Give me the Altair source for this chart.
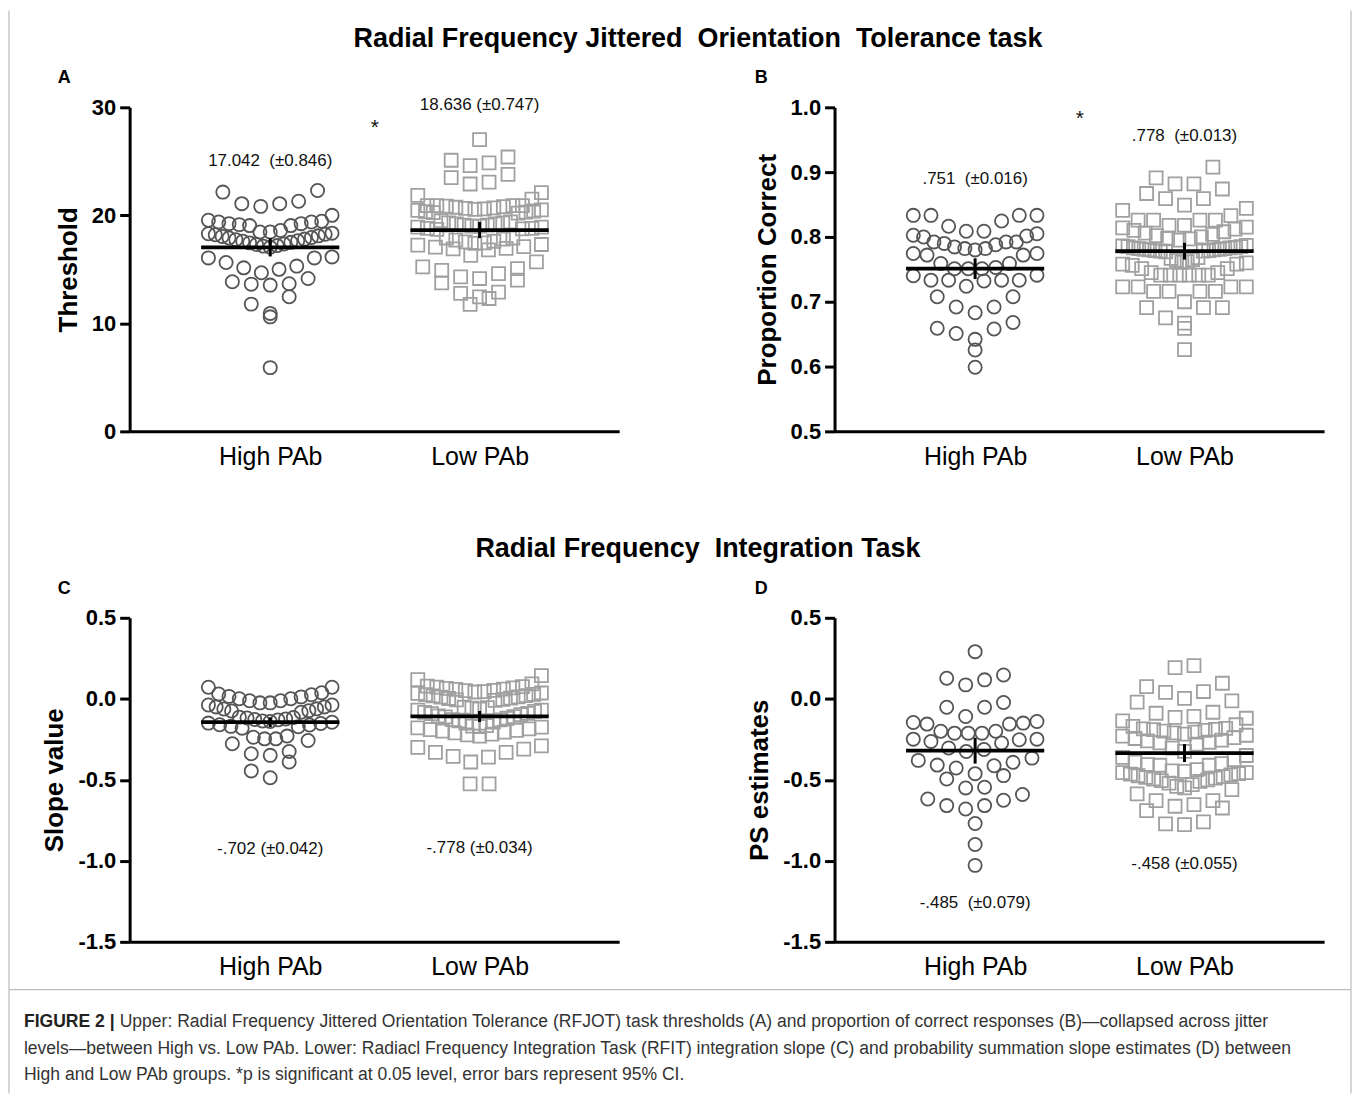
import altair as alt
import pandas as pd

FONT = "Liberation Sans, Arial, Helvetica, sans-serif"
NB = "\u00a0"

# ---------------- data ----------------
GROUPS = ["High PAb", "Low PAb"]

A_HIGH = [22.15, 22.3, 21.08, 20.83, 21.08, 21.3,
          19.54, 19.38, 19.23, 19.14, 19.05, 19.05, 19.23, 19.38, 19.45, 20.0,
          18.46, 18.6, 18.46,
          18.3, 18.2, 18.05, 17.9, 17.75, 17.6, 17.45, 17.3, 17.15, 17.05,
          17.2, 17.35, 17.5, 17.65, 17.8, 17.95, 18.1, 18.25, 18.35,
          16.06, 16.06, 15.3, 15.0, 14.68, 15.14, 15.63, 16.15,
          13.85, 13.63, 13.54, 13.66, 14.15,
          12.46, 11.78, 10.92, 10.6, 5.9]
A_LOW = [27.0, 25.1, 25.4, 24.6, 24.86, 22.9, 23.5, 23.8, 23.07, 21.85, 21.5, 22.1, 20.9, 20.9,
         20.9, 20.85, 20.75, 20.65, 20.55, 20.45, 20.35, 20.25, 20.2, 20.3, 20.4, 20.5, 20.6, 20.7, 20.8, 20.9,
         19.4, 19.3, 19.2, 19.1, 19.0, 18.9, 18.8, 18.75, 18.7, 18.8, 18.9, 19.0, 19.1, 19.2, 19.3, 19.5,
         17.9, 17.8, 17.6, 17.45, 17.3, 17.1, 16.95, 16.8, 16.9, 17.05, 17.25, 17.4, 17.55, 17.7, 17.9,
         16.3, 15.7,
         15.23, 14.9, 14.3, 14.0, 13.75, 14.15, 14.6, 15.07,
         12.9, 12.46, 11.75, 12.3, 12.77]
B_HIGH = [0.8333, 0.8333, 0.8165, 0.8246, 0.8333, 0.8333,
          0.8087, 0.8015, 0.800, 0.7923, 0.790, 0.7846, 0.782, 0.780, 0.782, 0.788, 0.7923, 0.7923,
          0.8026, 0.805, 0.8087,
          0.7744, 0.7744, 0.772, 0.772,
          0.759, 0.751, 0.751, 0.751, 0.7528, 0.759,
          0.74, 0.7333, 0.7333, 0.724, 0.741, 0.732, 0.7333, 0.7333,
          0.7077, 0.692, 0.683, 0.692, 0.7077,
          0.659, 0.651, 0.642, 0.658, 0.668,
          0.6256, 0.599]
B_LOW = [0.9077, 0.882, 0.874, 0.891, 0.867, 0.882, 0.859, 0.859, 0.849, 0.841, 0.844, 0.833,
         0.826, 0.826, 0.826, 0.826, 0.818, 0.818,
         0.815, 0.812, 0.808, 0.804, 0.80, 0.797, 0.795, 0.798, 0.802, 0.806, 0.81, 0.814,
         0.786, 0.785, 0.784, 0.783, 0.782, 0.781, 0.780, 0.779, 0.778, 0.777, 0.778, 0.779,
         0.780, 0.781, 0.782, 0.783, 0.785, 0.787,
         0.768, 0.765, 0.762, 0.760, 0.758, 0.756, 0.758, 0.761, 0.764, 0.767,
         0.751, 0.741, 0.741, 0.741, 0.741, 0.741, 0.741, 0.751, 0.745, 0.745,
         0.716, 0.716, 0.723, 0.723, 0.723, 0.723, 0.716, 0.716,
         0.691, 0.691, 0.691, 0.70,
         0.667, 0.659, 0.675, 0.626]
C_HIGH = [0.071, 0.037, 0.071,
          0.03, 0.015, 0.0, -0.012, -0.025, -0.038, -0.05, -0.062, -0.073, -0.083,
          -0.075, -0.063, -0.05, -0.038, -0.025, -0.012, 0.0, 0.012, 0.025,
          -0.113, -0.118, -0.124, -0.13, -0.137, -0.145, -0.152, -0.16, -0.17, -0.181,
          -0.172, -0.162, -0.15, -0.14, -0.128, -0.115,
          -0.237, -0.247, -0.277, -0.257, -0.247, -0.230,
          -0.339, -0.349, -0.325, -0.39,
          -0.487, -0.445]
C_LOW = [0.118, 0.092, 0.143,
         0.078, 0.072, 0.065, 0.058, 0.05, 0.042, 0.034, 0.026, 0.018, 0.01, 0.002, -0.006,
         -0.01, -0.004, 0.004, 0.012, 0.02, 0.028, 0.036, 0.044, 0.052, 0.06, 0.068, 0.075,
         -0.052, -0.058, -0.064, -0.07, -0.077, -0.084, -0.091, -0.098, -0.105, -0.112,
         -0.12, -0.128, -0.136, -0.144, -0.15, -0.13, -0.11, -0.09, -0.07, -0.055,
         -0.165, -0.172, -0.18, -0.19, -0.2, -0.21, -0.222, -0.23, -0.218, -0.205, -0.195,
         -0.185, -0.175, -0.168,
         -0.29, -0.31, -0.33, -0.355, -0.39, -0.36, -0.33, -0.30,
         -0.525, -0.525]
D_HIGH = [0.291, 0.127, 0.086, 0.117, 0.147, -0.052, -0.052, -0.023,
          -0.109, -0.146, -0.156, -0.20, -0.212, -0.212, -0.212, -0.20, -0.156, -0.150, -0.14,
          -0.249, -0.263, -0.304, -0.325, -0.366, -0.313, -0.273, -0.253, -0.249,
          -0.392, -0.413, -0.462, -0.495, -0.474, -0.427, -0.409, -0.38,
          -0.55, -0.618, -0.626, -0.591, -0.546, -0.659, -0.68, -0.659,
          -0.77, -0.899, -1.028]
D_LOW = [0.205, 0.192, 0.096, 0.045, 0.003, 0.04, 0.075,
         -0.013, -0.021, -0.083, -0.109, -0.12, -0.136, -0.115, -0.089, -0.17, -0.16,
         -0.185, -0.19, -0.2, -0.21, -0.225, -0.24, -0.255, -0.268, -0.28, -0.272, -0.26,
         -0.245, -0.23, -0.218, -0.205, -0.195, -0.188, -0.182,
         -0.325, -0.362, -0.376, -0.406, -0.41, -0.40, -0.41, -0.39, -0.35, -0.304,
         -0.448, -0.455, -0.462, -0.47, -0.48, -0.49, -0.5, -0.51, -0.53, -0.52, -0.505,
         -0.495, -0.485, -0.475, -0.465, -0.455, -0.445, -0.437,
         -0.55, -0.587, -0.628, -0.653, -0.628, -0.56, -0.54,
         -0.663, -0.69, -0.674, -0.76, -0.776, -0.772]

MEANS = {"A": [17.042, 18.636], "B": [0.751, 0.778], "C": [-0.144, -0.109], "D": [-0.32, -0.335]}
CIS = {"A": [0.846, 0.747], "B": [0.016, 0.013], "C": [0.03, 0.034], "D": [0.08, 0.055]}
ANN_TEXT = {
    "A": ["17.042" + NB + " (±0.846)", "18.636 (±0.747)"],
    "B": [".751" + NB + " (±0.016)", ".778" + NB + " (±0.013)"],
    "C": ["-.702 (±0.042)", "-.778 (±0.034)"],
    "D": ["-.485" + NB + " (±0.079)", "-.458 (±0.055)"],
}
ANN_Y = {"A": [25.0, 30.2], "B": [0.89, 0.955], "C": [-0.928, -0.918], "D": [-1.263, -1.017]}
STAR_Y = {"A": 28.06, "B": 0.9815}

TITLE1 = "Radial Frequency Jittered" + NB + " Orientation" + NB + " Tolerance task"
TITLE2 = "Radial Frequency" + NB + " Integration Task"
CAPTION_BOLD = "FIGURE 2 |"
CAPTION = [
    "Upper: Radial Frequency Jittered Orientation Tolerance (RFJOT) task thresholds (A) and proportion of correct responses (B)\u2014collapsed across jitter",
    "levels\u2014between High vs. Low PAb. Lower: Radiacl Frequency Integration Task (RFIT) integration slope (C) and probability summation slope estimates (D) between",
    "High and Low PAb groups. *p is significant at 0.05 level, error bars represent 95% CI.",
]

# ---------------- layout constants ----------------
W, H = 491, 325
GAP = 216
PX_PER_CAT = 210.0
XMIN, XMAX = 1 - 141 / PX_PER_CAT, 1 + 350 / PX_PER_CAT
LEFT_EDGE, RIGHT_EDGE = -121, 1225
CAP_FS = 17.6


def swarm(vals, ppu_y, bin_px=17.0, gap_px=19.0, span_px=124.0):
    ordered = sorted(vals, reverse=True)
    rows, cur, top = [], [], None
    for v in ordered:
        if top is None or (top - v) * ppu_y > bin_px:
            if cur:
                rows.append(cur)
            cur, top = [v], v
        else:
            cur.append(v)
    if cur:
        rows.append(cur)
    out = []
    for row in rows:
        n = len(row)
        step = gap_px if n < 2 else min(gap_px, span_px / (n - 1))
        slots = [0.0] if n % 2 else []
        k = 1.0 if n % 2 else 0.5
        while len(slots) < n:
            slots.append(-k)
            if len(slots) < n:
                slots.append(k)
            k += 1
        for v, s in zip(sorted(row), slots):
            out.append((v, s * step))
    return out


def panel(key, letter_dx, hi, lo, ydom, yticks, ytitle):
    ppu_y = H / (ydom[1] - ydom[0])
    recs = []
    for g, vals in ((1, hi), (2, lo)):
        for v, off in swarm(vals, ppu_y):
            recs.append({"g": g, "v": v, "x": g + off / PX_PER_CAT})
    df = pd.DataFrame(recs)

    xs = alt.Scale(domain=[XMIN, XMAX], nice=False, zero=False)
    ys = alt.Scale(domain=ydom, nice=False, zero=False)
    xaxis = alt.Axis(values=[1, 2], labelExpr="datum.value == 1 ? '%s' : '%s'" % tuple(GROUPS),
                     ticks=False, grid=False, title=None, domainColor="black", domainWidth=3,
                     labelFontSize=25, labelPadding=13, labelColor="black", labelFont=FONT)
    yaxis = alt.Axis(values=yticks, labelExpr="replace(format(datum.value, '%s'), '\u2212', '-')" % (
        ".0f" if key == "A" else ".1f"),
        grid=False, title=ytitle, domainColor="black", domainWidth=3, tickColor="black",
        tickWidth=3, tickSize=10, labelFontSize=22, labelFontWeight="bold", labelColor="black",
        labelFont=FONT, labelPadding=4, titleFont=FONT, titleFontSize=26, titleFontWeight="bold",
        titleColor="black", titlePadding=10)
    X = lambda f: alt.X(f, scale=xs, axis=xaxis)
    Y = lambda f: alt.Y(f, scale=ys, axis=yaxis)

    circles = alt.Chart(df).transform_filter("datum.g == 1").mark_point(
        shape="circle", filled=False, size=175, strokeWidth=1.8, color="#555555", opacity=1
    ).encode(x=X("x:Q"), y=Y("v:Q"))
    squares = alt.Chart(df).transform_filter("datum.g == 2").mark_point(
        shape="square", filled=False, size=170, strokeWidth=1.8, color="#a0a0a0", opacity=1
    ).encode(x=X("x:Q"), y=Y("v:Q"))

    m, c = MEANS[key], CIS[key]
    stats = pd.DataFrame({"g": [1, 2], "m": m,
                          "lo": [m[0] - c[0], m[1] - c[1]], "hi": [m[0] + c[0], m[1] + c[1]],
                          "l": [1 - 0.33, 2 - 0.33], "r": [1 + 0.33, 2 + 0.33]})
    mean_rule = alt.Chart(stats).mark_rule(color="black", strokeWidth=3.8).encode(
        x=X("l:Q"), x2="r:Q", y=Y("m:Q"))
    err_rule = alt.Chart(stats).mark_rule(color="black", strokeWidth=3).encode(
        x=X("g:Q"), y=Y("lo:Q"), y2="hi:Q")

    ann = pd.DataFrame({"g": [1, 2], "y": ANN_Y[key], "t": ANN_TEXT[key]})
    ann_text = alt.Chart(ann).mark_text(font=FONT, fontSize=17, baseline="middle", color="#111111").encode(
        x=X("g:Q"), y=Y("y:Q"), text="t:N")
    layers = [circles, squares, mean_rule, err_rule, ann_text]
    if key in STAR_Y:
        star = pd.DataFrame({"g": [1.5], "y": [STAR_Y[key]], "t": ["*"]})
        layers.append(alt.Chart(star).mark_text(font=FONT, fontSize=21, baseline="middle",
                                                 color="#111111").encode(
            x=X("g:Q"), y=Y("y:Q"), text="t:N"))
    lt = pd.DataFrame({"t": [key]})
    layers.append(alt.Chart(lt).mark_text(font=FONT, fontSize=18, fontWeight="bold", align="left",
                                          baseline="alphabetic", color="black").encode(
        x=alt.value(letter_dx), y=alt.value(-24), text="t:N"))
    return alt.layer(*layers).properties(width=W, height=H)


pA = panel("A", -72, A_HIGH, A_LOW, [0, 30], [0, 10, 20, 30], "Threshold")
pB = panel("B", -80, B_HIGH, B_LOW, [0.5, 1.0], [0.5, 0.6, 0.7, 0.8, 0.9, 1.0], "Proportion Correct")
pC = panel("C", -72, C_HIGH, C_LOW, [-1.5, 0.5], [-1.5, -1.0, -0.5, 0.0, 0.5], "Slope value")
pD = panel("D", -80, D_HIGH, D_LOW, [-1.5, 0.5], [-1.5, -1.0, -0.5, 0.0, 0.5], "PS estimates")


def blank(height):
    return alt.Chart(pd.DataFrame({"t": [" "]})).mark_text(fontSize=1).encode(
        x=alt.value(10), y=alt.value(height / 2), text="t:N").properties(width=W, height=height)


def title_chart(text, height, base_y, with_frame=False):
    t = pd.DataFrame({"t": [text]})
    center = (2 * W + GAP) / 2 - 29
    layers = [alt.Chart(t).mark_text(font=FONT, fontSize=27, fontWeight="bold", color="black",
                                     baseline="alphabetic").encode(
        x=alt.value(center), y=alt.value(base_y), text="t:N")]
    if with_frame:
        for xv in (LEFT_EDGE, RIGHT_EDGE):
            layers.append(alt.Chart(t).mark_rule(color="#c8c8c8", strokeWidth=1.5).encode(
                x=alt.value(xv), y=alt.value(0), y2=alt.value(1086)))
    return alt.layer(*layers).properties(width=W, height=height)


t1 = title_chart(TITLE1, 97, 36, with_frame=True)
t2 = title_chart(TITLE2, 187, 126)

# caption (box top 48px below the lower panels; sides come from the frame lines)
CAP_H = 144
BOLD_W = 91
box_top = alt.Chart(pd.DataFrame({"t": ["box"]})).mark_rule(
    color="#bdbdbd", strokeWidth=1.2).encode(
    x=alt.value(LEFT_EDGE), x2=alt.value(RIGHT_EDGE), y=alt.value(48))
bold = alt.Chart(pd.DataFrame({"t": [CAPTION_BOLD]})).mark_text(
    font=FONT, fontSize=CAP_FS, fontWeight="bold", align="left", baseline="alphabetic", color="#222222").encode(
    x=alt.value(-106), y=alt.value(85), text="t:N")
first = alt.Chart(pd.DataFrame({"t": [CAPTION[0]]})).mark_text(
    font=FONT, fontSize=CAP_FS, align="left", baseline="alphabetic", color="#333333").encode(
    x=alt.value(-106 + BOLD_W + 5), y=alt.value(85), text="t:N")
second = alt.Chart(pd.DataFrame({"t": [CAPTION[1]]})).mark_text(
    font=FONT, fontSize=CAP_FS, align="left", baseline="alphabetic", color="#333333").encode(
    x=alt.value(-106), y=alt.value(112), text="t:N")
third = alt.Chart(pd.DataFrame({"t": [CAPTION[2]]})).mark_text(
    font=FONT, fontSize=CAP_FS, align="left", baseline="alphabetic", color="#333333").encode(
    x=alt.value(-106), y=alt.value(139), text="t:N")
caption = alt.layer(box_top, bold, first, second, third).properties(width=W, height=CAP_H)

chart = alt.concat(
    t1, blank(97),
    pA, pB,
    t2, blank(187),
    pC, pD,
    caption, blank(CAP_H),
    columns=2, spacing={"row": 0, "column": GAP}, bounds="flush",
).properties(
    padding={"left": 0, "top": 0, "right": 0, "bottom": 0}
).configure(background="white").configure_view(stroke=None)

chart.save("out.html", embed_options={"renderer": "svg", "actions": False})
